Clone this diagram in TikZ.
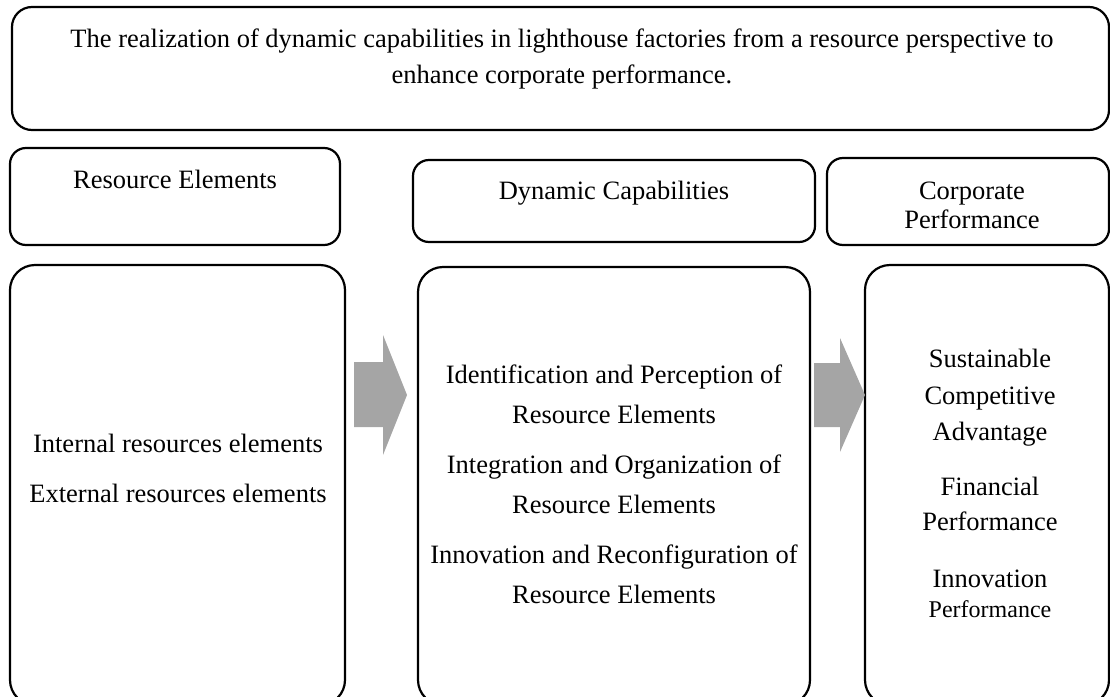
\documentclass[tikz,border=0pt]{standalone}
\usepackage{fontspec}
\setmainfont{Liberation Serif}
\definecolor{arrowgray}{RGB}{165,165,165}
\begin{document}
\begin{tikzpicture}[x=1pt,y=-1pt,
  box/.style={draw, line width=2.2pt, rounded corners=#1, inner sep=0pt, outer sep=0pt},
  box/.default=16pt,
  txt/.style={anchor=base, inner sep=0pt, font=\fontsize{26.5}{30}\selectfont},
  smalltxt/.style={anchor=base, inner sep=0pt, font=\fontsize{24}{28}\selectfont},
  blockarrow/.style={fill=arrowgray, draw=none}]
\useasboundingbox (0,0) rectangle (1110,696);
\clip (0,0) rectangle (1110,696);

% boxes
\node[box=20pt, minimum width=1097pt, minimum height=123pt] (title) at (560.5,68.5) {};
\node[box, minimum width=330pt, minimum height=97pt] (res) at (175,196.5) {};
\node[box, minimum width=402pt, minimum height=82pt] (dyn) at (614,201) {};
\node[box, minimum width=282pt, minimum height=87pt] (corp) at (968,201.5) {};
\node[box=25pt, minimum width=335pt, minimum height=440pt] (L) at (177.5,485) {};
\node[box=25pt, minimum width=392pt, minimum height=438pt] (M) at (614,486) {};
\node[box=25pt, minimum width=244pt, minimum height=440pt] (R) at (987,485) {};

% block arrows
\fill[blockarrow] (354,362) -- (383,362) -- (383,335) -- (407,395) -- (383,455) -- (383,427) -- (354,427) -- cycle;
\fill[blockarrow] (814,363) -- (840,363) -- (840,338) -- (865,395) -- (840,452) -- (840,427) -- (814,427) -- cycle;

% title
\node[txt] (t1) at (562,47) {The realization of dynamic capabilities in lighthouse factories from a resource perspective to};
\node[txt] (t2) at (562,83) {enhance corporate performance.};

% headers
\node[txt] (h1) at (175,188) {Resource Elements};
\node[txt] (h2) at (614,199) {Dynamic Capabilities};
\node[txt] (h3a) at (972,199) {Corporate};
\node[txt] (h3b) at (972,228) {Performance};

% left column
\node[txt] (l1) at (178,452) {Internal resources elements};
\node[txt] (l2) at (178,502) {External resources elements};

% middle column
\node[txt] (m1) at (614,383) {Identification and Perception of};
\node[txt] (m2) at (614,423) {Resource Elements};
\node[txt] (m3) at (614,473) {Integration and Organization of};
\node[txt] (m4) at (614,513) {Resource Elements};
\node[txt] (m5) at (614,563) {Innovation and Reconfiguration of};
\node[txt] (m6) at (614,603) {Resource Elements};

% right column
\node[txt] (r1) at (990,367) {Sustainable};
\node[txt] (r2) at (990,404) {Competitive};
\node[txt] (r3) at (990,440) {Advantage};
\node[txt] (r4) at (990,495) {Financial};
\node[txt] (r5) at (990,530) {Performance};
\node[txt] (r6) at (990,587) {Innovation};
\node[smalltxt] (r7) at (990,617) {Performance};
\end{tikzpicture}
\end{document}
